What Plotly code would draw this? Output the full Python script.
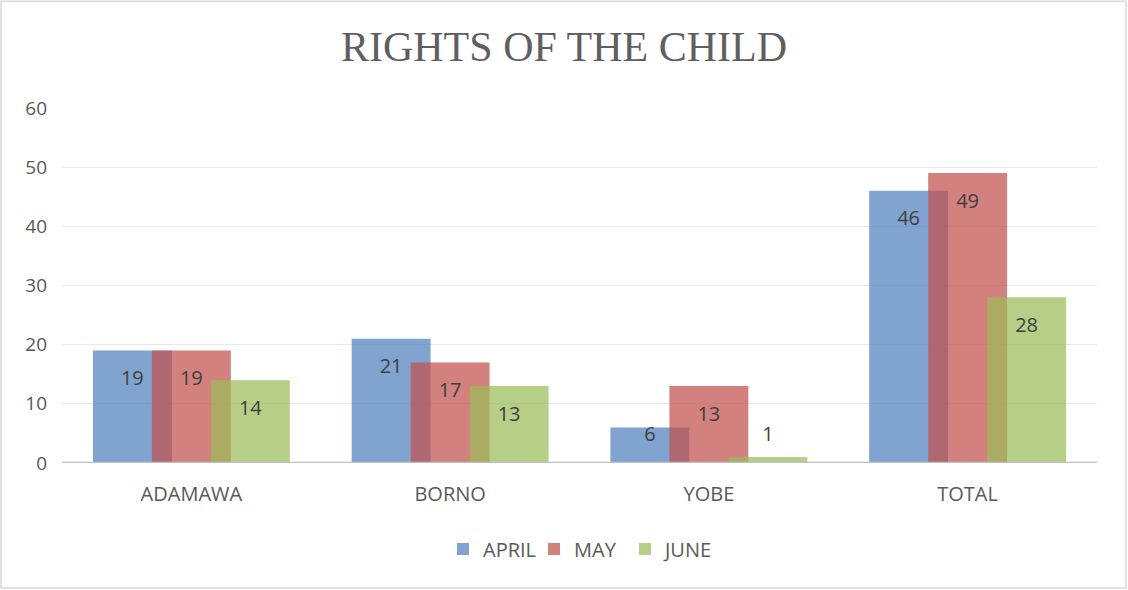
import plotly.graph_objects as go

categories = ["ADAMAWA", "BORNO", "YOBE", "TOTAL"]
april = [19, 21, 6, 46]
may = [19, 17, 13, 49]
june = [14, 13, 1, 28]
series_names = ["APRIL", "MAY", "JUNE"]
y_ticks = [0, 10, 20, 30, 40, 50, 60]

colors = ["rgba(79,129,189,0.72)", "rgba(192,80,77,0.72)", "rgba(155,187,89,0.72)"]
shifts = [-0.228, 0.0, 0.228]
bar_w = 0.305

fig = go.Figure()
idx = list(range(len(categories)))
for name, vals, col, sh in zip(series_names, [april, may, june], colors, shifts):
    xs = [i + sh for i in idx]
    fig.add_trace(go.Bar(x=xs, y=vals, width=bar_w, name=name,
                         marker=dict(color=col, line=dict(width=0))))
for name, vals, sh in zip(series_names, [april, may, june], shifts):
    xs = [i + sh for i in idx]
    ys = [max(v - 5, 4.5) for v in vals]
    fig.add_trace(go.Scatter(x=xs, y=ys, mode="text", text=[str(v) for v in vals],
                             textfont=dict(size=20, color="#404040", family="Open Sans"),
                             showlegend=False, hoverinfo="skip"))

fig.update_layout(
    barmode="overlay",
    width=1128, height=590,
    margin=dict(l=62, r=31, t=108, b=127),
    paper_bgcolor="white", plot_bgcolor="white",
    title=dict(text="RIGHTS OF THE CHILD", x=0.5, xanchor="center", y=0.922, yanchor="middle",
               font=dict(family="Liberation Serif", size=42, color="#5f5f5f")),
    font=dict(family="Open Sans", color="#595959", size=19),
    legend=dict(orientation="h", x=0.5, xanchor="center", y=-0.242, yanchor="middle",
                font=dict(size=20, color="#595959"), itemwidth=30, traceorder="normal",
                entrywidth=46, entrywidthmode="pixels"),
    xaxis=dict(range=[-0.5, 3.5], tickvals=idx, ticktext=categories, showgrid=False,
               zeroline=False, showline=False, ticks="", ticklabelstandoff=17,
               tickfont=dict(size=20, color="#595959")),
    yaxis=dict(range=[0, 60], tickvals=y_ticks, showgrid=True, gridcolor="#E8E8E8",
               gridwidth=1, zeroline=False, showline=False, ticks="", ticklabelstandoff=14,
               tickfont=dict(size=19, color="#595959")),
    shapes=[
        dict(type="line", xref="paper", yref="y", x0=0, x1=1, y0=0, y1=0,
             line=dict(color="#BFBFBF", width=2.5)),
        dict(type="rect", xref="paper", yref="paper", x0=-0.0589, x1=1.028,
             y0=-0.352, y1=1.301, line=dict(color="#D9D9D9", width=1.5)),
    ],
)

fig.write_html("out.html", config={"displayModeBar": False},
               post_script="document.body.style.margin='0';document.body.style.overflow='hidden';")
